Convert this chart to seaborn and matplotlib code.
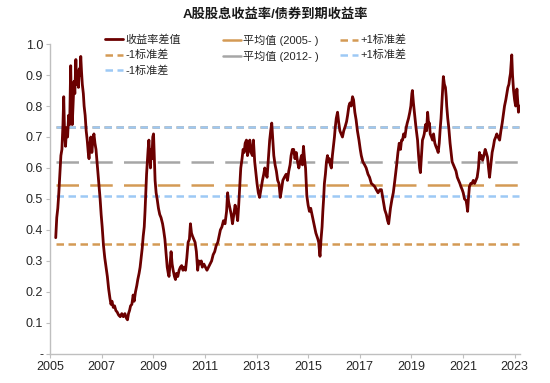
import numpy as np
import pandas as pd
import seaborn as sns
import matplotlib
matplotlib.use("Agg")
import matplotlib.pyplot as plt
from matplotlib.ticker import FuncFormatter
from matplotlib.lines import Line2D

# 收益率差值 (decimal year, value)
dates = [
    2005.22, 2005.26, 2005.30, 2005.34, 2005.38, 2005.42, 2005.46, 2005.50, 2005.53, 2005.56,
    2005.60, 2005.64, 2005.68, 2005.72, 2005.76, 2005.80, 2005.83, 2005.86, 2005.90, 2005.93,
    2005.96, 2006.00, 2006.03, 2006.06, 2006.10, 2006.13, 2006.16, 2006.19, 2006.22, 2006.25,
    2006.29, 2006.32, 2006.36, 2006.40, 2006.44, 2006.48, 2006.51, 2006.55, 2006.58, 2006.62,
    2006.66, 2006.70, 2006.74, 2006.78, 2006.82, 2006.86, 2006.90, 2006.94, 2006.98, 2007.02,
    2007.07, 2007.12, 2007.17, 2007.22, 2007.27, 2007.32, 2007.36, 2007.40, 2007.45, 2007.50,
    2007.55, 2007.60, 2007.66, 2007.72, 2007.78, 2007.84, 2007.90, 2007.96, 2008.00, 2008.04,
    2008.08, 2008.12, 2008.17, 2008.22, 2008.26, 2008.31, 2008.36, 2008.40, 2008.45, 2008.49,
    2008.53, 2008.57, 2008.61, 2008.65, 2008.68, 2008.71, 2008.74, 2008.77, 2008.80, 2008.83,
    2008.86, 2008.89, 2008.92, 2008.95, 2008.98, 2009.01, 2009.04, 2009.07, 2009.11, 2009.15,
    2009.20, 2009.25, 2009.30, 2009.36, 2009.40, 2009.45, 2009.50, 2009.54, 2009.58, 2009.61,
    2009.65, 2009.69, 2009.73, 2009.77, 2009.82, 2009.86, 2009.90, 2009.95, 2010.00, 2010.05,
    2010.10, 2010.15, 2010.20, 2010.25, 2010.30, 2010.35, 2010.40, 2010.44, 2010.48, 2010.52,
    2010.57, 2010.62, 2010.67, 2010.72, 2010.76, 2010.81, 2010.86, 2010.90, 2010.96, 2011.02,
    2011.08, 2011.14, 2011.20, 2011.26, 2011.32, 2011.38, 2011.44, 2011.50, 2011.55, 2011.60,
    2011.66, 2011.72, 2011.78, 2011.84, 2011.88, 2011.92, 2011.97, 2012.02, 2012.07, 2012.12,
    2012.17, 2012.22, 2012.27, 2012.31, 2012.35, 2012.39, 2012.44, 2012.48, 2012.52, 2012.56,
    2012.61, 2012.65, 2012.70, 2012.74, 2012.79, 2012.84, 2012.88, 2012.93, 2012.98, 2013.02,
    2013.07, 2013.12, 2013.17, 2013.23, 2013.28, 2013.32, 2013.37, 2013.41, 2013.46, 2013.51,
    2013.55, 2013.59, 2013.63, 2013.67, 2013.72, 2013.77, 2013.82, 2013.87, 2013.92, 2013.97,
    2014.02, 2014.08, 2014.15, 2014.20, 2014.25, 2014.30, 2014.34, 2014.39, 2014.44, 2014.49,
    2014.54, 2014.59, 2014.64, 2014.69, 2014.74, 2014.78, 2014.82, 2014.86, 2014.90, 2014.95,
    2015.00, 2015.05, 2015.10, 2015.15, 2015.20, 2015.25, 2015.30, 2015.34, 2015.38, 2015.41,
    2015.44, 2015.46, 2015.50, 2015.54, 2015.57, 2015.60, 2015.63, 2015.67, 2015.71, 2015.75,
    2015.79, 2015.82, 2015.86, 2015.90, 2015.94, 2015.98, 2016.02, 2016.05, 2016.09, 2016.14,
    2016.18, 2016.23, 2016.28, 2016.33, 2016.38, 2016.44, 2016.49, 2016.53, 2016.58, 2016.62,
    2016.67, 2016.72, 2016.76, 2016.81, 2016.86, 2016.91, 2016.97, 2017.02, 2017.06, 2017.12,
    2017.19, 2017.25, 2017.32, 2017.38, 2017.45, 2017.52, 2017.58, 2017.64, 2017.71, 2017.78,
    2017.84, 2017.90, 2017.97, 2018.03, 2018.08, 2018.12, 2018.16, 2018.19, 2018.25, 2018.30,
    2018.36, 2018.43, 2018.48, 2018.53, 2018.58, 2018.62, 2018.66, 2018.70, 2018.75, 2018.80,
    2018.84, 2018.89, 2018.94, 2018.98, 2019.02, 2019.04, 2019.08, 2019.13, 2019.18, 2019.24,
    2019.28, 2019.32, 2019.35, 2019.39, 2019.43, 2019.47, 2019.50, 2019.55, 2019.59, 2019.63,
    2019.67, 2019.70, 2019.73, 2019.78, 2019.82, 2019.86, 2019.91, 2019.95, 2020.00, 2020.04,
    2020.08, 2020.12, 2020.15, 2020.19, 2020.22, 2020.24, 2020.28, 2020.32, 2020.35, 2020.37,
    2020.41, 2020.45, 2020.50, 2020.54, 2020.58, 2020.63, 2020.68, 2020.73, 2020.78, 2020.83,
    2020.88, 2020.92, 2020.97, 2021.01, 2021.06, 2021.12, 2021.15, 2021.18, 2021.21, 2021.25,
    2021.30, 2021.35, 2021.40, 2021.45, 2021.50, 2021.55, 2021.60, 2021.64, 2021.68, 2021.72,
    2021.76, 2021.81, 2021.86, 2021.90, 2021.95, 2021.99, 2022.03, 2022.08, 2022.13, 2022.18,
    2022.22, 2022.27, 2022.31, 2022.36, 2022.42, 2022.47, 2022.52, 2022.56, 2022.61, 2022.66,
    2022.70, 2022.74, 2022.78, 2022.81, 2022.84, 2022.87, 2022.89, 2022.92, 2022.96, 2023.00,
    2023.04, 2023.07, 2023.09, 2023.12, 2023.15, 2023.18,
]
spread = [
    0.375, 0.44, 0.47, 0.52, 0.58, 0.64, 0.66, 0.74, 0.83, 0.72,
    0.67, 0.73, 0.70, 0.77, 0.74, 0.93, 0.78, 0.74, 0.82, 0.88,
    0.84, 0.95, 0.87, 0.91, 0.86, 0.92, 0.90, 0.96, 0.91, 0.87,
    0.84, 0.80, 0.77, 0.72, 0.69, 0.65, 0.63, 0.68, 0.70, 0.65,
    0.69, 0.71, 0.68, 0.66, 0.62, 0.58, 0.54, 0.50, 0.45, 0.41,
    0.35, 0.31, 0.28, 0.25, 0.21, 0.18, 0.16, 0.17, 0.15, 0.155,
    0.14, 0.135, 0.125, 0.12, 0.13, 0.12, 0.13, 0.115, 0.11, 0.13,
    0.14, 0.155, 0.16, 0.19, 0.17, 0.20, 0.22, 0.24, 0.26, 0.28,
    0.31, 0.34, 0.38, 0.41, 0.46, 0.52, 0.58, 0.62, 0.66, 0.69,
    0.64, 0.60, 0.66, 0.63, 0.70, 0.71, 0.63, 0.56, 0.52, 0.50,
    0.47, 0.45, 0.44, 0.42, 0.40, 0.37, 0.32, 0.28, 0.26, 0.25,
    0.29, 0.33, 0.29, 0.27, 0.25, 0.24, 0.26, 0.25, 0.27, 0.28,
    0.285, 0.27, 0.28, 0.27, 0.31, 0.36, 0.37, 0.42, 0.39, 0.38,
    0.37, 0.36, 0.33, 0.27, 0.30, 0.29, 0.30, 0.28, 0.29, 0.28,
    0.27, 0.28, 0.29, 0.30, 0.32, 0.33, 0.35, 0.36, 0.38, 0.40,
    0.41, 0.43, 0.42, 0.46, 0.52, 0.49, 0.47, 0.45, 0.42, 0.45,
    0.48, 0.46, 0.43, 0.48, 0.54, 0.60, 0.63, 0.66, 0.65, 0.68,
    0.69, 0.64, 0.66, 0.69, 0.65, 0.64, 0.69, 0.62, 0.58, 0.55,
    0.52, 0.505, 0.53, 0.56, 0.58, 0.60, 0.58, 0.57, 0.63, 0.69,
    0.72, 0.745, 0.69, 0.64, 0.61, 0.59, 0.56, 0.55, 0.505, 0.53,
    0.56, 0.57, 0.58, 0.56, 0.59, 0.61, 0.64, 0.66, 0.66, 0.63,
    0.65, 0.62, 0.60, 0.62, 0.64, 0.61, 0.67, 0.63, 0.60, 0.51,
    0.48, 0.46, 0.47, 0.45, 0.43, 0.41, 0.39, 0.38, 0.37, 0.36,
    0.33, 0.315, 0.37, 0.41, 0.46, 0.50, 0.55, 0.58, 0.62, 0.64,
    0.62, 0.63, 0.61, 0.60, 0.64, 0.67, 0.70, 0.73, 0.76, 0.78,
    0.75, 0.72, 0.71, 0.70, 0.72, 0.735, 0.75, 0.77, 0.80, 0.81,
    0.80, 0.83, 0.82, 0.78, 0.755, 0.72, 0.69, 0.66, 0.64, 0.62,
    0.61, 0.60, 0.58, 0.57, 0.55, 0.545, 0.54, 0.53, 0.52, 0.53,
    0.53, 0.50, 0.465, 0.45, 0.43, 0.42, 0.45, 0.47, 0.50, 0.52,
    0.56, 0.61, 0.65, 0.68, 0.66, 0.69, 0.69, 0.71, 0.70, 0.73,
    0.745, 0.76, 0.78, 0.80, 0.84, 0.85, 0.81, 0.77, 0.73, 0.69,
    0.64, 0.60, 0.585, 0.64, 0.69, 0.70, 0.71, 0.74, 0.72, 0.78,
    0.74, 0.745, 0.71, 0.70, 0.69, 0.71, 0.68, 0.67, 0.66, 0.65,
    0.68, 0.73, 0.76, 0.82, 0.87, 0.895, 0.87, 0.86, 0.83, 0.80,
    0.76, 0.73, 0.68, 0.65, 0.62, 0.61, 0.60, 0.59, 0.57, 0.56,
    0.55, 0.54, 0.53, 0.52, 0.50, 0.495, 0.48, 0.46, 0.50, 0.54,
    0.55, 0.55, 0.56, 0.55, 0.56, 0.57, 0.60, 0.65, 0.63, 0.64,
    0.625, 0.64, 0.66, 0.65, 0.635, 0.60, 0.57, 0.61, 0.65, 0.67,
    0.69, 0.70, 0.71, 0.70, 0.69, 0.72, 0.745, 0.77, 0.80, 0.82,
    0.84, 0.86, 0.87, 0.89, 0.905, 0.94, 0.965, 0.90, 0.85, 0.82,
    0.80, 0.83, 0.855, 0.82, 0.78, 0.80,
]

# reference levels
mean_2005 = 0.544
std_2005 = 0.188
mean_2012 = 0.620
std_2012 = 0.112

df = pd.DataFrame({"date": dates, "spread": spread})

sns.set_style("white")
plt.rcParams["font.family"] = ["Liberation Sans", "Noto Sans CJK SC", "DejaVu Sans"]

fig = plt.figure(figsize=(5.5, 3.83), dpi=100)
ax = fig.add_axes([0.091, 0.076, 0.854, 0.809])

dark_red = "#6b0000"
tan = "#d49a55"
grey = "#a6a6a6"
light_blue = "#9dc9f5"

x0, x1 = df["date"].min(), df["date"].max()
span = [x0, x1]

# horizontal reference lines
ax.plot(span, [mean_2005 + std_2005] * 2, color=tan, lw=1.8, dashes=(3, 1.8))
ax.plot(span, [mean_2012 + std_2012] * 2, color=light_blue, lw=1.8, dashes=(3, 1.8))
ax.plot(span, [mean_2012] * 2, color=grey, lw=1.8, dashes=(9, 4.5))
ax.plot(span, [mean_2005] * 2, color=tan, lw=1.8, dashes=(9, 4.5))
ax.plot(span, [mean_2012 - std_2012] * 2, color=light_blue, lw=1.8, dashes=(3, 1.8))
ax.plot(span, [mean_2005 - std_2005] * 2, color=tan, lw=1.8, dashes=(3, 1.8))

sns.lineplot(data=df, x="date", y="spread", ax=ax, color=dark_red, lw=2.0)

ax.set_xlim(2005, 2023.2)
ax.set_ylim(0, 1.0)
ax.set_xticks(range(2005, 2024, 2))
ax.set_yticks(np.arange(0, 1.01, 0.1))
ax.yaxis.set_major_formatter(FuncFormatter(lambda v, p: "-" if abs(v) < 1e-9 else f"{v:.1f}"))
ax.set_xlabel("")
ax.set_ylabel("")
for s in ["top", "right"]:
    ax.spines[s].set_visible(False)
for s in ["left", "bottom"]:
    ax.spines[s].set_color("#bfbfbf")
    ax.spines[s].set_linewidth(1.0)
ax.tick_params(axis="both", which="major", length=3, color="#bfbfbf", labelsize=9, labelcolor="#262626",
               bottom=True, left=True, pad=2)

fig.text(0.5, 1 - 15 / 383, "A股股息收益率/债券到期收益率", ha="center", va="center",
         fontsize=9.5, fontweight="bold", color="#1a1a1a")

# legend, one block per column
cols = [
    ([Line2D([], [], color=dark_red, lw=2.0),
      Line2D([], [], color=tan, lw=1.8, dashes=(3, 1.8)),
      Line2D([], [], color=light_blue, lw=1.8, dashes=(3, 1.8))],
     ["收益率差值", "-1标准差", "-1标准差"], 105),
    ([Line2D([], [], color=tan, lw=1.8),
      Line2D([], [], color=grey, lw=1.8)],
     ["平均值 (2005- )", "平均值 (2012- )"], 223),
    ([Line2D([], [], color=tan, lw=1.8, dashes=(3, 1.8)),
      Line2D([], [], color=light_blue, lw=1.8, dashes=(3, 1.8))],
     ["+1标准差", "+1标准差"], 340),
]
for h, l, px in cols:
    fig.legend(h, l, frameon=False, fontsize=8, loc="upper left",
               bbox_to_anchor=(px / 550, 1 - 35 / 383), borderpad=0, borderaxespad=0,
               handlelength=1.6, handletextpad=0.2, labelspacing=0.42, labelcolor="#262626")

fig.savefig("out.png", dpi=100)
